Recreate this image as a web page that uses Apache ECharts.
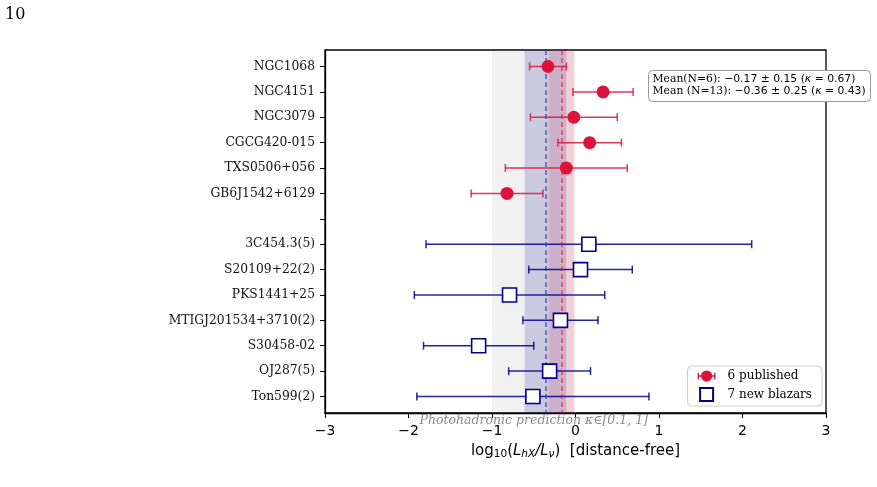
<!DOCTYPE html>
<html>
<head>
<meta charset="utf-8">
<script src="https://cdn.jsdelivr.net/npm/echarts@6/dist/echarts.min.js"></script>
<style>
  html, body { margin: 0; padding: 0; background: #fff; }
  #chart { width: 877px; height: 487px; }
</style>
</head>
<body>
<div id="chart"></div>
<script>
// sources, top to bottom ('' is the spacer row)
const categories = [
  'NGC1068', 'NGC4151', 'NGC3079', 'CGCG420-015', 'TXS0506+056', 'GB6J1542+6129',
  '',
  '3C454.3(5)', 'S20109+22(2)', 'PKS1441+25', 'MTIGJ201534+3710(2)', 'S30458-02', 'OJ287(5)', 'Ton599(2)'
]
// 6 published (rows 0..5)
const pubRows = [0, 1, 2, 3, 4, 5]
const pubVal = [-0.33, 0.33, -0.02, 0.17, -0.11, -0.82]
const pubErr = [0.22, 0.36, 0.52, 0.38, 0.73, 0.43]
// 7 new blazars (rows 7..13)
const newRows = [7, 8, 9, 10, 11, 12, 13]
const newVal = [0.16, 0.06, -0.79, -0.18, -1.16, -0.31, -0.51]
const newErr = [1.95, 0.62, 1.14, 0.45, 0.66, 0.49, 1.39]
// means
const meanPub = -0.17, sdPub = 0.15
const meanAll = -0.36, sdAll = 0.25
const predRange = [-1, 0]

const RED = '#dc143c'
const BLUE = '#00008b'
const SERIF = 'DejaVu Serif'
const SANS = 'DejaVu Sans'

const chart = echarts.init(document.getElementById('chart'))

const toPts = (rows, vals, errs) => rows.map((r, i) => [vals[i], r, errs[i]])
const pubPts = toPts(pubRows, pubVal, pubErr)
const newPts = toPts(newRows, newVal, newErr)

const errRender = color => (params, api) => {
  const x = api.value(0), y = api.value(1), e = api.value(2)
  const a = api.coord([x - e, y])
  const b = api.coord([x + e, y])
  const cap = 4
  const st = { stroke: color, lineWidth: 1.5, opacity: 0.85 }
  return {
    type: 'group',
    children: [
      { type: 'line', shape: { x1: a[0], y1: a[1], x2: b[0], y2: b[1] }, style: st },
      { type: 'line', shape: { x1: a[0], y1: a[1] - cap, x2: a[0], y2: a[1] + cap }, style: st },
      { type: 'line', shape: { x1: b[0], y1: b[1] - cap, x2: b[0], y2: b[1] + cap }, style: st },
    ],
  }
}

const rowVals = categories.map((c, i) => i)
const fmtMinus = v => (v < 0 ? '\u2212' + Math.abs(v) : String(v))

// legend icons: dot with error stubs, open square
const dotIcon = 'path://M0,4.4h16v1.2h-16z M0,2h1.2v6h-1.2z M14.8,2h1.2v6h-1.2z M8,0a5,5 0 1,1 -0.01,0z'
const boxIcon = 'path://M0,0h10v10h-10z'

chart.setOption({
  animation: false,
  grid: {
    left: 325,
    top: 50,
    width: 501,
    height: 363,
    show: true,
    borderColor: '#000',
    borderWidth: 1.3,
    backgroundColor: 'transparent',
  },
  xAxis: {
    type: 'value',
    min: -3,
    max: 3,
    interval: 1,
    axisLine: { show: true, onZero: false, lineStyle: { color: '#000', width: 1.3 } },
    axisTick: { show: true, inside: false, length: 5, lineStyle: { color: '#000', width: 1 } },
    splitLine: { show: false },
    axisLabel: {
      formatter: fmtMinus,
      fontFamily: SANS,
      fontSize: 14,
      color: '#000',
      margin: 11,
    },
    name: '{n|log}{s|10}{n|(}{i|L}{si|hX}{i|/L}{si|ν}{n|)  [distance-free]}',
    nameLocation: 'middle',
    nameGap: 30,
    nameTextStyle: {
      rich: {
        n: { fontFamily: SANS, fontSize: 15, color: '#000' },
        i: { fontFamily: SANS, fontStyle: 'italic', fontSize: 15, color: '#000' },
        s: { fontFamily: SANS, fontSize: 10.5, color: '#000', padding: [6, 0, 0, 0] },
        si: { fontFamily: SANS, fontStyle: 'italic', fontSize: 10.5, color: '#000', padding: [6, 0, 0, 0] },
      },
    },
  },
  yAxis: {
    type: 'value',
    inverse: true,
    min: -0.65,
    max: 13.65,
    axisLine: { show: true, onZero: false, lineStyle: { color: '#000', width: 1.3 } },
    axisTick: { show: true, length: 5, customValues: rowVals, lineStyle: { color: '#000', width: 1 } },
    splitLine: { show: false },
    axisLabel: {
      customValues: rowVals,
      formatter: v => categories[Math.round(v)],
      fontFamily: SERIF,
      fontSize: 12.3,
      color: '#111',
      margin: 10,
    },
  },
  legend: {
    data: [
      { name: '6 published', icon: dotIcon },
      { name: '7 new blazars', icon: boxIcon },
    ],
    orient: 'vertical',
    right: 55,
    bottom: 81,
    backgroundColor: '#fff',
    borderColor: '#ccc',
    borderWidth: 1,
    borderRadius: 4,
    padding: [4, 10, 4, 10],
    itemGap: 5,
    itemWidth: 18,
    itemHeight: 13,
    symbolKeepAspect: true,
    textStyle: { fontFamily: SERIF, fontSize: 12, color: '#000', padding: [0, 0, 0, 7] },
  },
  graphic: [
    {
      type: 'text',
      left: 5,
      top: 7,
      style: { text: '10', fontFamily: SERIF, fontSize: 16, fill: '#000' },
    },
    {
      type: 'group',
      left: 648,
      top: 70,
      children: [
        {
          type: 'rect',
          shape: { x: 0, y: 0, width: 222, height: 31, r: 4 },
          style: { fill: '#fff', stroke: '#999', lineWidth: 1 },
        },
        {
          type: 'text',
          x: 4,
          y: 3,
          style: {
            text: '{s|Mean(N=6): }{m|\u22120.17 \u00b1 0.15 (}{k|\u03ba}{m| = 0.67)}\n' +
                  '{s|Mean (N=13): }{m|\u22120.36 \u00b1 0.25 (}{k|\u03ba}{m| = 0.43)}',
            lineHeight: 12,
            rich: {
              s: { fontFamily: SERIF, fontSize: 10.8, fill: '#000', lineHeight: 12 },
              m: { fontFamily: SANS, fontSize: 10.8, fill: '#000', lineHeight: 12 },
              k: { fontFamily: SANS, fontStyle: 'italic', fontSize: 10.8, fill: '#000', lineHeight: 12 },
            },
          },
        },
      ],
    },
  ],
  series: [
    {
      name: 'bands',
      type: 'line',
      data: [],
      silent: true,
      markArea: {
        silent: true,
        data: [
          [
            {
              xAxis: predRange[0],
              itemStyle: { color: 'rgba(128,128,128,0.11)' },
              label: {
                show: true,
                position: 'bottom',
                distance: 1,
                formatter: 'Photohadronic prediction κ∈[0.1, 1]',
                fontFamily: SERIF,
                fontStyle: 'italic',
                fontSize: 12.5,
                color: '#8a8a8a',
              },
            },
            { xAxis: predRange[1] },
          ],
          [
            { xAxis: meanAll - sdAll, itemStyle: { color: 'rgba(0,0,139,0.16)' } },
            { xAxis: meanAll + sdAll },
          ],
          [
            { xAxis: meanPub - sdPub, itemStyle: { color: 'rgba(220,20,60,0.15)' } },
            { xAxis: meanPub + sdPub },
          ],
        ],
      },
      markLine: {
        silent: true,
        symbol: 'none',
        label: { show: false },
        data: [
          { xAxis: meanAll, lineStyle: { color: 'rgba(40,40,160,0.7)', type: [5, 3], width: 1.5 } },
          { xAxis: meanPub, lineStyle: { color: 'rgba(220,20,60,0.65)', type: [5, 3], width: 1.5 } },
        ],
      },
    },
    {
      name: 'pubErr',
      type: 'custom',
      renderItem: errRender(RED),
      data: pubPts,
      z: 3,
    },
    {
      name: 'newErr',
      type: 'custom',
      renderItem: errRender(BLUE),
      data: newPts,
      z: 3,
    },
    {
      name: '6 published',
      type: 'scatter',
      data: pubPts,
      symbol: 'circle',
      symbolSize: 13,
      itemStyle: { color: RED, opacity: 1 },
      z: 5,
    },
    {
      name: '7 new blazars',
      type: 'scatter',
      data: newPts,
      symbol: 'rect',
      symbolSize: 14,
      itemStyle: { color: '#fff', borderColor: BLUE, borderWidth: 1.6, opacity: 1 },
      z: 5,
    },
  ],
})
</script>
</body>
</html>
